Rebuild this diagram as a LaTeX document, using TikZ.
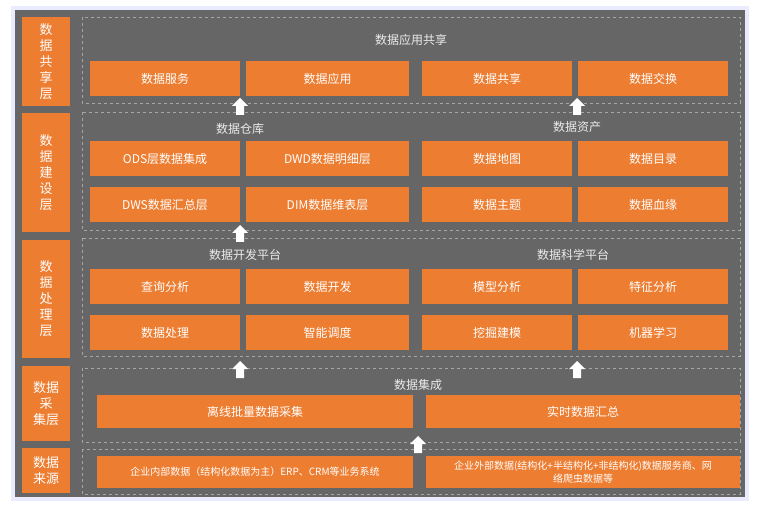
\documentclass[tikz,border=0pt]{standalone}
\usepackage{fontspec}
\newfontfamily\cjk{Noto Sans CJK SC}
\definecolor{bg}{HTML}{666666}
\definecolor{org}{HTML}{ED7D31}
\definecolor{dash}{HTML}{A6A6A6}
\newcommand\upblock[2]{\fill[white] (#1-4,#2+17) -- (#1-4,#2+8) -- (#1-8,#2+8) -- (#1,#2) -- (#1+8,#2+8) -- (#1+4,#2+8) -- (#1+4,#2+17) -- cycle;}
\begin{document}
\begin{tikzpicture}[x=1pt,y=-1pt,
  box/.style={fill=org,draw=none,text=white,font=\cjk\fontsize{12}{14}\selectfont,inner sep=0pt},
  lay/.style={fill=org,text=white,font=\cjk\fontsize{13}{16}\selectfont,align=center,inner sep=0pt},
  ct/.style={draw=dash,dashed,line width=0.6pt},
  ttl/.style={text=white!92!black,font=\cjk\fontsize{12}{14}\selectfont,inner sep=0pt}]
\useasboundingbox (0,0) rectangle (760,510);
\fill[blue!8] (11,6) rectangle (749,501);
\fill[bg] (15,10) rectangle (745,497);
\newcommand\bx[6]{\node[box,minimum width={#4-#2},minimum height={#5-#3}] (#1) at ({(#2+#4)/2},{(#3+#5)/2}) {#6};}
\newcommand\ly[6]{\node[lay,minimum width={#4-#2},minimum height={#5-#3}] (#1) at ({(#2+#4)/2},{(#3+#5)/2}) {#6};}
% layers
\ly{l1}{22}{17}{70}{106}{数\\据\\共\\享\\层}
\ly{l2}{22}{113}{70}{232}{数\\据\\建\\设\\层}
\ly{l3}{22}{240}{70}{358}{数\\据\\处\\理\\层}
\ly{l4}{22}{366}{70}{441}{数据\\采\\集层}
\ly{l5}{22}{448}{70}{493}{数据\\来源}
% containers
\draw[ct] (82,17) rectangle (740,103);
\draw[ct] (82,112) rectangle (740,230);
\draw[ct] (82,238) rectangle (740,356);
\draw[ct] (82,368) rectangle (740,442);
\draw[ct] (82,449) rectangle (740,494);
% top
\node[ttl] (t1) at (411,40) {数据应用共享};
\bx{a1}{90}{61}{240}{96}{数据服务}
\bx{a2}{246}{61}{409}{96}{数据应用}
\bx{a3}{422}{61}{572}{96}{数据共享}
\bx{a4}{578}{61}{728}{96}{数据交换}
% build
\node[ttl] (t2) at (240,129) {数据仓库};
\node[ttl] (t3) at (577,127) {数据资产};
\bx{b1}{90}{141}{240}{176}{ODS层数据集成}
\bx{b2}{246}{141}{409}{176}{DWD数据明细层}
\bx{b3}{422}{141}{572}{176}{数据地图}
\bx{b4}{578}{141}{728}{176}{数据目录}
\bx{b5}{90}{187}{240}{222}{DWS数据汇总层}
\bx{b6}{246}{187}{409}{222}{DIM数据维表层}
\bx{b7}{422}{187}{572}{222}{数据主题}
\bx{b8}{578}{187}{728}{222}{数据血缘}
% process
\node[ttl] (t4) at (245,255) {数据开发平台};
\node[ttl] (t5) at (573,255) {数据科学平台};
\bx{c1}{90}{269}{240}{304}{查询分析}
\bx{c2}{246}{269}{409}{304}{数据开发}
\bx{c3}{422}{269}{572}{304}{模型分析}
\bx{c4}{578}{269}{728}{304}{特征分析}
\bx{c5}{90}{315}{240}{350}{数据处理}
\bx{c6}{246}{315}{409}{350}{智能调度}
\bx{c7}{422}{315}{572}{350}{挖掘建模}
\bx{c8}{578}{315}{728}{350}{机器学习}
% collect
\node[ttl] (t6) at (418,385) {数据集成};
\bx{d1}{97}{395}{413}{428}{离线批量数据采集}
\bx{d2}{426}{395}{740}{428}{实时数据汇总}
% source
\bx{e1}{97}{456}{413}{488}{\fontsize{10}{12}\selectfont 企业内部数据（结构化数据为主）ERP、CRM等业务系统}
\node[box,minimum width=314,minimum height=32,align=center,font=\cjk\fontsize{10}{13}\selectfont] (e2) at (583,472) {企业外部数据(结构化+半结构化+非结构化)数据服务商、网\\络爬虫数据等};
% arrows
\upblock{240}{98}
\upblock{577}{98}
\upblock{240}{225}
\upblock{240}{361}
\upblock{577}{361}
\upblock{418}{436}
\end{tikzpicture}
\end{document}
